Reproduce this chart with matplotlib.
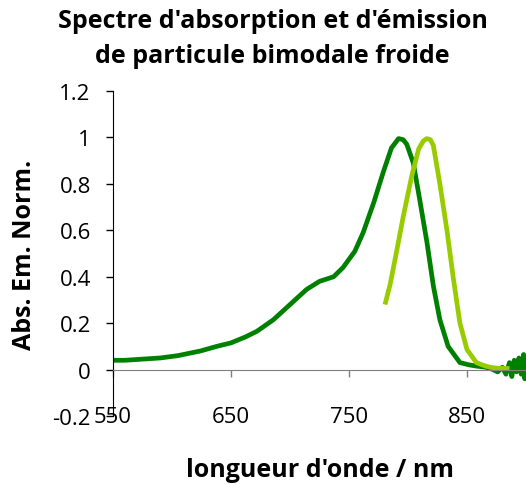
import numpy as np
import matplotlib
matplotlib.use("Agg")
import matplotlib.pyplot as plt

# absorption spectrum (dark green)
abs_nm = [550, 560, 575, 590, 605, 624, 638, 650, 662, 672, 686, 700, 714, 725,
          737, 745, 755, 762, 771, 779, 786, 792, 796, 799, 804.5, 810, 816,
          821.5, 827, 834, 844, 852, 858, 866, 872, 876, 880, 883, 886, 888,
          890, 892, 894, 896, 898, 899, 900]
abs_val = [0.04, 0.04, 0.045, 0.05, 0.06, 0.08, 0.1, 0.115, 0.14, 0.165, 0.215,
           0.28, 0.345, 0.38, 0.40, 0.44, 0.51, 0.59, 0.72, 0.85, 0.955, 0.995,
           0.99, 0.97, 0.89, 0.73, 0.55, 0.36, 0.215, 0.10, 0.03, 0.02, 0.015,
           0.01, 0.0, -0.01, 0.01, -0.02, 0.03, -0.03, 0.04, -0.01, 0.05,
           -0.02, 0.065, -0.04, 0.04]

# emission spectrum (light green)
em_nm = [781, 785, 790, 796, 803, 809, 813, 816, 819, 821.5, 827, 833, 838.5,
         844, 850, 858, 864, 869.5, 876, 884]
em_val = [0.29, 0.37, 0.50, 0.66, 0.83, 0.95, 0.985, 0.995, 0.99, 0.965, 0.80,
          0.60, 0.39, 0.20, 0.086, 0.03, 0.018, 0.01, 0.006, 0.005]

title = "Spectre d'absorption et d'émission\nde particule bimodale froide"
x_ticks = [550, 650, 750, 850]
y_ticks = [-0.2, 0, 0.2, 0.4, 0.6, 0.8, 1, 1.2]
y_labels = ["-0.2", "0", "0.2", "0.4", "0.6", "0.8", "1", "1.2"]

plt.rcParams['font.family'] = ['Open Sans', 'DejaVu Sans']

fig = plt.figure(figsize=(5.26, 4.85), dpi=100)
ax = fig.add_axes([113 / 526, 1 - 417 / 485, 413 / 526, 325 / 485])

ax.plot(abs_nm, abs_val, color='#008000', lw=3.4, solid_joinstyle='round')
ax.plot(em_nm, em_val, color='#99cc00', lw=3.4, solid_joinstyle='round')

ax.set_xlim(550, 900)
ax.set_ylim(-0.2, 1.2)

ax.spines['top'].set_visible(False)
ax.spines['right'].set_visible(False)
ax.spines['bottom'].set_position(('data', 0))
ax.spines['bottom'].set_color('#808080')
ax.spines['left'].set_color('black')

ax.set_xticks(x_ticks)
ax.set_xticklabels([str(v) for v in x_ticks])
ax.set_yticks(y_ticks)
ax.set_yticklabels(y_labels)
ax.tick_params(axis='x', direction='out', length=5, width=1, color='#808080',
               labelsize=16, pad=21)
ax.tick_params(axis='y', direction='out', length=5, width=1, labelsize=16, pad=11)

fig.text(272.5 / 526, 1 - 39 / 485, title, ha='center', va='center',
         fontsize=18, fontweight='bold', linespacing=1.5)
fig.text(25 / 526, 1 - 255 / 485, "Abs. Em. Norm.", rotation=90, ha='center',
         va='center', fontsize=18, fontweight='bold')
fig.text(320 / 526, 1 - 471 / 485, "longueur d'onde / nm", ha='center',
         va='center', fontsize=18, fontweight='bold')

fig.savefig("out.png", dpi=100)
